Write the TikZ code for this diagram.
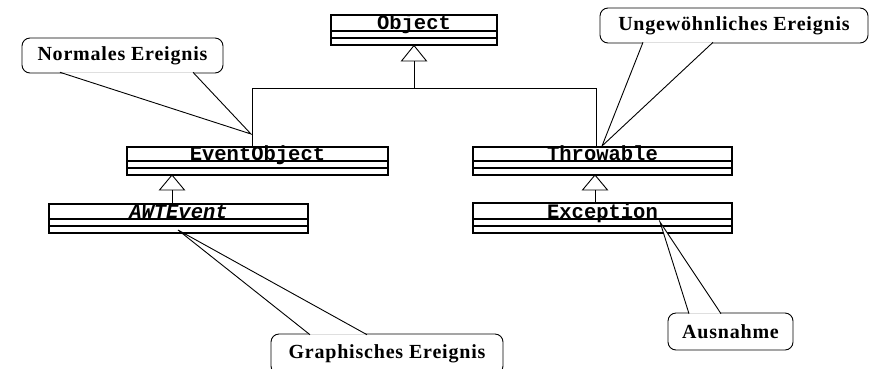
\documentclass[tikz,border=0pt]{standalone}
\usepackage{fontspec}
\setmainfont{Liberation Serif}
\setmonofont{Liberation Mono}
\newfontfamily\calloutfont[LetterSpace=4]{Liberation Serif Bold}
\begin{document}
\begin{tikzpicture}[x=1pt,y=-1pt,
  clsbox/.style={draw, line width=1.1pt, rectangle, inner sep=0pt},
  cline/.style={line width=1.1pt},
  clsname/.style={anchor=base, inner sep=0pt, font=\fontsize{20.5}{20.5}\ttfamily\bfseries},
  link/.style={line width=0.9pt},
  tri/.style={draw, line width=0.9pt, fill=white},
  callout/.style={draw, line width=0.9pt, rectangle, rounded corners=8pt, inner sep=0pt,
    font=\fontsize{20}{20}\calloutfont},
  wedge/.style={line width=0.9pt}]
\useasboundingbox (0,0) rectangle (870,368);

% ---- classes ----
\node[clsbox, minimum width=166pt, minimum height=30pt] (object) at (414,30) {};
\draw[cline] (object.west |- 0,31) -- (object.east |- 0,31);
\draw[cline] (object.west |- 0,38) -- (object.east |- 0,38);
\node[clsname] (objectname) at (object.center |- 0,29.5) {Object};

\node[clsbox, minimum width=261pt, minimum height=28pt] (eventobject) at (257.5,161) {};
\draw[cline] (eventobject.west |- 0,161) -- (eventobject.east |- 0,161);
\draw[cline] (eventobject.west |- 0,168) -- (eventobject.east |- 0,168);
\node[clsname] (eventobjectname) at (eventobject.center |- 0,160) {EventObject};

\node[clsbox, minimum width=259pt, minimum height=28pt] (throwable) at (602.5,161) {};
\draw[cline] (throwable.west |- 0,161) -- (throwable.east |- 0,161);
\draw[cline] (throwable.west |- 0,168) -- (throwable.east |- 0,168);
\node[clsname] (throwablename) at (throwable.center |- 0,160) {Throwable};

\node[clsbox, minimum width=259pt, minimum height=29pt] (awtevent) at (178.5,218.5) {};
\draw[cline] (awtevent.west |- 0,219) -- (awtevent.east |- 0,219);
\draw[cline] (awtevent.west |- 0,226) -- (awtevent.east |- 0,226);
\node[clsname, font=\fontsize{20.5}{20.5}\ttfamily\bfseries\itshape] (awteventname) at (awtevent.center |- 0,218) {AWTEvent};

\node[clsbox, minimum width=259pt, minimum height=30pt] (exception) at (602.5,218) {};
\draw[cline] (exception.west |- 0,219) -- (exception.east |- 0,219);
\draw[cline] (exception.west |- 0,226) -- (exception.east |- 0,226);
\node[clsname] (exceptionname) at (exception.center |- 0,218) {Exception};

% ---- generalizations ----
\coordinate (objapex) at (414,45.5);
\coordinate (objbase) at (414,61);
\coordinate (jc) at (414,88);
\coordinate (jl) at (252,88);
\coordinate (jr) at (596,88);
\draw[tri] (objapex) -- ++(-12.5,15.5) -- ++(25,0) -- cycle;
\draw[link] (objbase) -- (jc);
\draw[link] (jl |- eventobject.north) -- (jl) -- (jr) -- (jr |- throwable.north);

\coordinate (evapex) at (172,175);
\coordinate (evbase) at (172,190);
\draw[tri] (evapex) -- ++(-12.5,15) -- ++(25,0) -- cycle;
\draw[link] (evbase) -- (evbase |- awtevent.north);

\coordinate (thapex) at (595,175);
\coordinate (thbase) at (595,190);
\draw[tri] (thapex) -- ++(-12.5,15) -- ++(25,0) -- cycle;
\draw[link] (thbase) -- (thbase |- exception.north);

% ---- callouts ----
\node[callout, minimum width=201pt, minimum height=35pt] (normal) at (122.5,55.5) {Normales Ereignis};
\coordinate (tipnormal) at (251,134);
\fill[white] (60,72.3) -- (tipnormal) -- (193,72.3) -- cycle;
\draw[wedge] (60,72.3) -- (tipnormal) -- (193,72.3);

\node[callout, minimum width=268pt, minimum height=35pt] (unusual) at (734,25.5) {Ungewöhnliches Ereignis};
\coordinate (tipunusual) at (602,146);
\fill[white] (643,42.3) -- (tipunusual) -- (713,42.3) -- cycle;
\draw[wedge] (643,42.3) -- (tipunusual) -- (713,42.3);

\node[callout, minimum width=232pt, minimum height=40pt] (graphic) at (387,354) {\raisebox{2.5pt}{Graphisches Ereignis}};
\coordinate (tipgraphic) at (178,230);
\fill[white] (310,334.7) -- (tipgraphic) -- (367,334.7) -- cycle;
\draw[wedge] (310,334.7) -- (tipgraphic) -- (367,334.7);

\node[callout, minimum width=125pt, minimum height=37pt] (exc) at (730.5,331.5) {Ausnahme};
\coordinate (tipexc) at (660,222);
\fill[white] (689,313.7) -- (tipexc) -- (721,313.7) -- cycle;
\draw[wedge] (689,313.7) -- (tipexc) -- (721,313.7);
\end{tikzpicture}
\end{document}
